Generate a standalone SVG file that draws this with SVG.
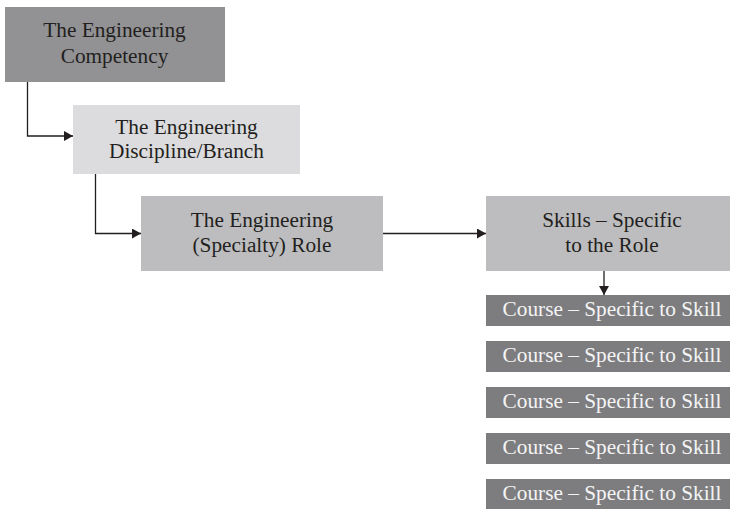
<svg xmlns="http://www.w3.org/2000/svg" width="730" height="509" viewBox="0 0 730 509">
  <style>
    .lbl { font-family: "Liberation Serif", "Times New Roman", serif; font-size: 21.3px; text-anchor: middle; fill: #231f20; }
    .course-lbl { font-family: "Liberation Serif", "Times New Roman", serif; font-size: 21.3px; text-anchor: middle; fill: #f4f4f4; }
    .course { fill: #7d7d80; }
    .link { fill: none; stroke: #231f20; stroke-width: 1.3; }
  </style>
  <defs>
    <marker id="arrow" viewBox="0 0 9 10" refX="9" refY="5" markerWidth="9" markerHeight="10" markerUnits="userSpaceOnUse" orient="auto">
      <path d="M0,0 L9,5 L0,10 Z" fill="#231f20"/>
    </marker>
  </defs>
  <rect width="730" height="509" fill="#ffffff"/>

  <g id="competency">
    <rect x="5" y="7" width="220" height="75" fill="#929294"/>
    <text class="lbl" x="114.5" y="37">The Engineering</text>
    <text class="lbl" x="114.5" y="63">Competency</text>
  </g>

  <g id="discipline">
    <rect x="73" y="105" width="227" height="69" fill="#dcdcde"/>
    <text class="lbl" x="186.5" y="134">The Engineering</text>
    <text class="lbl" x="186.5" y="158">Discipline/Branch</text>
  </g>

  <g id="role">
    <rect x="141" y="196" width="242" height="75" fill="#bdbdbf"/>
    <text class="lbl" x="262" y="227">The Engineering</text>
    <text class="lbl" x="262" y="252">(Specialty) Role</text>
  </g>

  <g id="skills">
    <rect x="486" y="196" width="244" height="75" fill="#bdbdbf"/>
    <text class="lbl" x="612" y="227">Skills – Specific</text>
    <text class="lbl" x="612" y="252">to the Role</text>
  </g>

  <g id="course-1">
    <rect class="course" x="486" y="295" width="244" height="31"/>
    <text class="course-lbl" x="612" y="316">Course – Specific to Skill</text>
  </g>
  <g id="course-2">
    <rect class="course" x="486" y="341" width="244" height="31"/>
    <text class="course-lbl" x="612" y="362">Course – Specific to Skill</text>
  </g>
  <g id="course-3">
    <rect class="course" x="486" y="387" width="244" height="31"/>
    <text class="course-lbl" x="612" y="408">Course – Specific to Skill</text>
  </g>
  <g id="course-4">
    <rect class="course" x="486" y="433" width="244" height="31"/>
    <text class="course-lbl" x="612" y="454">Course – Specific to Skill</text>
  </g>
  <g id="course-5">
    <rect class="course" x="486" y="479" width="244" height="30"/>
    <text class="course-lbl" x="612" y="500">Course – Specific to Skill</text>
  </g>

  <g id="connectors">
    <path class="link" d="M27.5,82 V136 H73" marker-end="url(#arrow)"/>
    <path class="link" d="M95.5,174 V233.5 H141" marker-end="url(#arrow)"/>
    <path class="link" d="M383,233.5 H486" marker-end="url(#arrow)"/>
    <path class="link" d="M604,271 V295" marker-end="url(#arrow)"/>
  </g>
</svg>
